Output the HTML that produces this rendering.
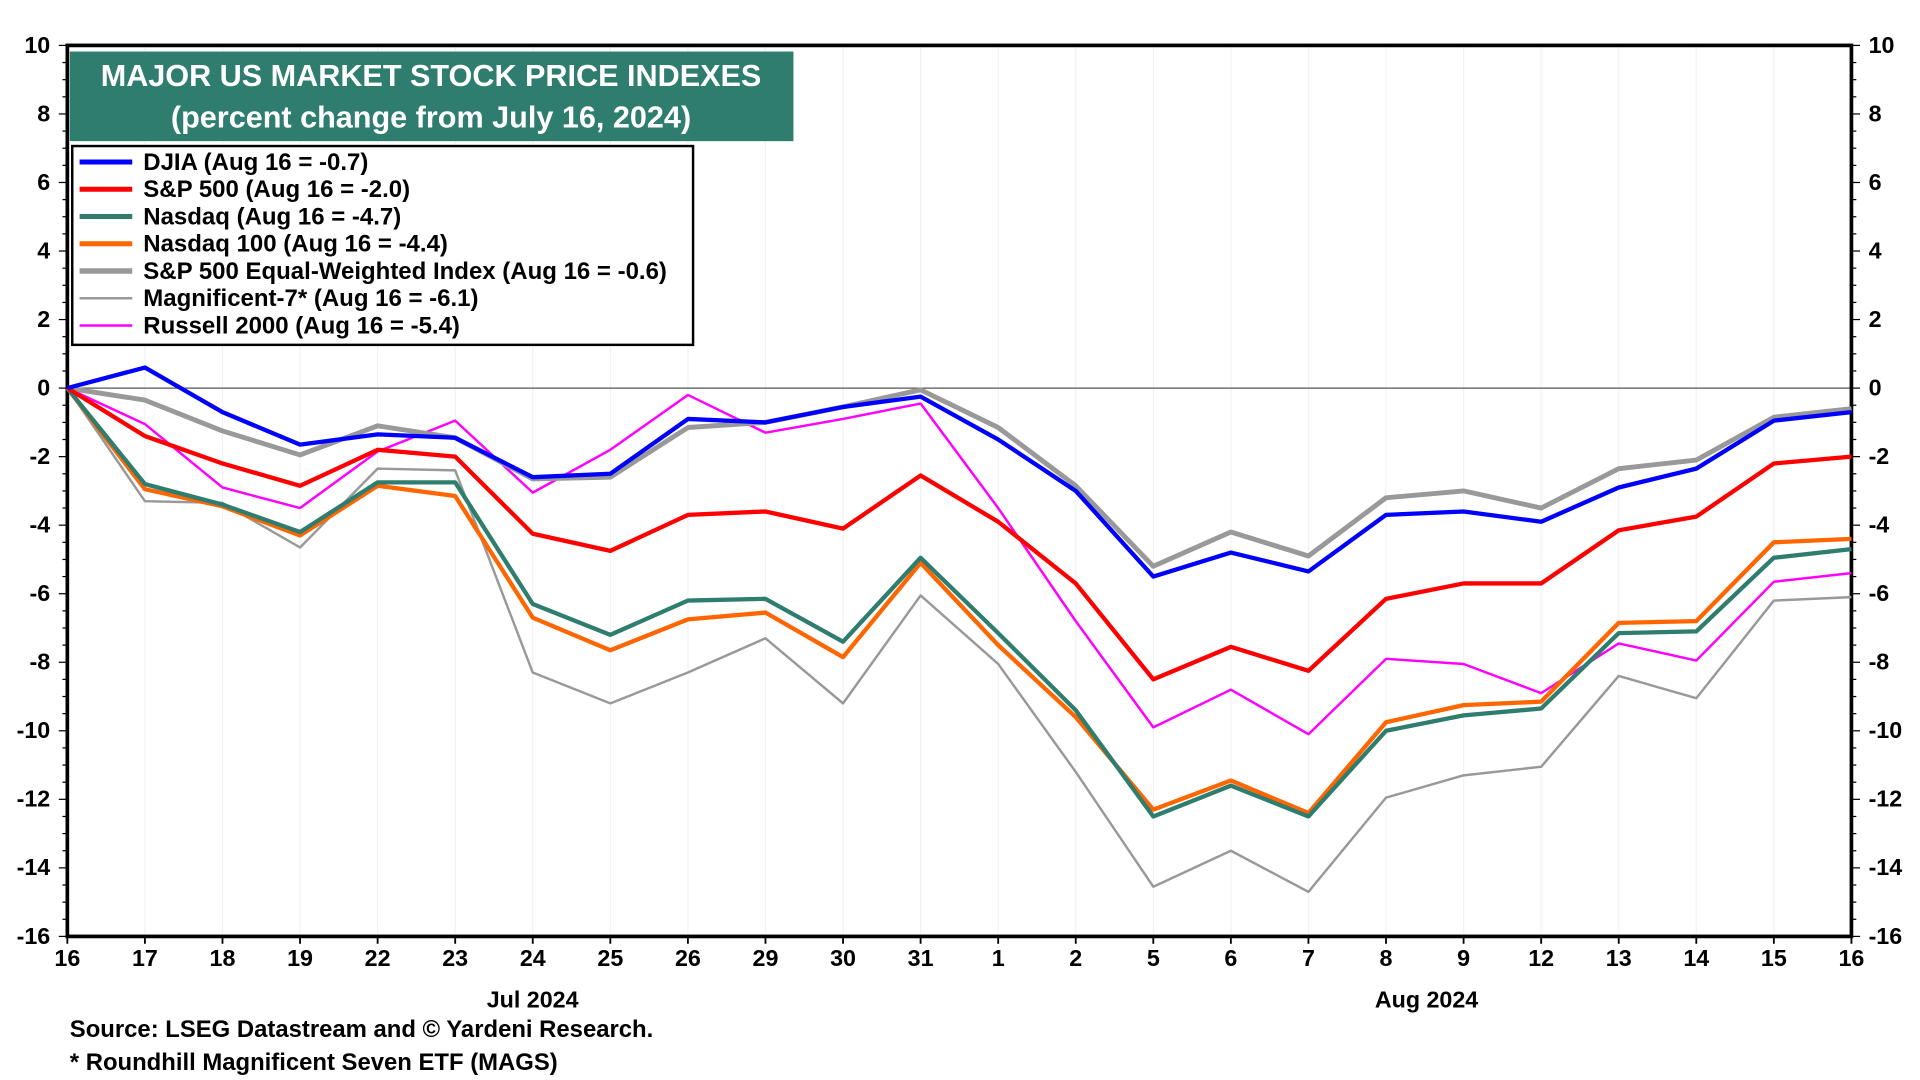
<!DOCTYPE html>
<html><head><meta charset="utf-8"><style>
html,body{margin:0;padding:0;background:#fff;}
svg{display:block;font-family:"Liberation Sans",Arial,sans-serif;font-weight:bold;}
</style></head><body>
<svg id="chart" width="1920" height="1080" viewBox="0 0 1568 880" preserveAspectRatio="none" xmlns="http://www.w3.org/2000/svg">
<g id="grid"></g>
<g id="axes"></g>
<g id="series"></g>
<rect x="57" y="42" width="591" height="73" fill="#2e7d6e"/>
<text x="352" y="70" fill="#fff" font-size="25" text-anchor="middle">MAJOR US MARKET STOCK PRICE INDEXES</text>
<text x="352" y="104" fill="#fff" font-size="25" text-anchor="middle">(percent change from July 16, 2024)</text>
<rect x="59" y="119" width="507" height="162" fill="#fff" stroke="#000" stroke-width="2"/>
<g id="legend"></g>
<text x="435" y="821" font-size="19" text-anchor="middle">Jul 2024</text>
<text x="1165" y="821" font-size="19" text-anchor="middle">Aug 2024</text>
<text x="57" y="845" font-size="19.5">Source: LSEG Datastream and © Yardeni Research.</text>
<text x="57" y="872" font-size="19.5">* Roundhill Magnificent Seven ETF (MAGS)</text>
</svg>
<script>
const categories=["16","17","18","19","22","23","24","25","26","29","30","31","1","2","5","6","7","8","9","12","13","14","15","16"];
const yTicks=[10,8,6,4,2,0,-2,-4,-6,-8,-10,-12,-14,-16];
const djia=[0,0.6,-0.7,-1.65,-1.35,-1.45,-2.6,-2.5,-0.9,-1.0,-0.55,-0.25,-1.5,-3.0,-5.5,-4.8,-5.35,-3.7,-3.6,-3.9,-2.9,-2.35,-0.95,-0.7];
const sp500=[0,-1.4,-2.2,-2.85,-1.8,-2.0,-4.25,-4.75,-3.7,-3.6,-4.1,-2.55,-3.9,-5.7,-8.5,-7.55,-8.25,-6.15,-5.7,-5.7,-4.15,-3.75,-2.2,-2.0];
const nasdaq=[0,-2.8,-3.4,-4.2,-2.75,-2.75,-6.3,-7.2,-6.2,-6.15,-7.4,-4.95,-7.15,-9.4,-12.5,-11.6,-12.5,-10.0,-9.55,-9.35,-7.15,-7.1,-4.95,-4.7];
const nasdaq100=[0,-2.95,-3.45,-4.3,-2.85,-3.15,-6.7,-7.65,-6.75,-6.55,-7.85,-5.1,-7.5,-9.6,-12.3,-11.45,-12.4,-9.75,-9.25,-9.15,-6.85,-6.8,-4.5,-4.4];
const spEqual=[0,-0.35,-1.25,-1.95,-1.1,-1.45,-2.65,-2.6,-1.15,-1.0,-0.55,-0.05,-1.15,-2.85,-5.2,-4.2,-4.9,-3.2,-3.0,-3.5,-2.35,-2.1,-0.85,-0.6];
const mag7=[0,-3.3,-3.35,-4.65,-2.35,-2.4,-8.3,-9.2,-8.3,-7.3,-9.2,-6.05,-8.05,-11.2,-14.55,-13.5,-14.7,-11.95,-11.3,-11.05,-8.4,-9.05,-6.2,-6.1];
const russell=[0,-1.05,-2.9,-3.5,-1.85,-0.95,-3.05,-1.8,-0.2,-1.3,-0.9,-0.45,-3.5,-6.8,-9.9,-8.8,-10.1,-7.9,-8.05,-8.9,-7.45,-7.95,-5.65,-5.4];
const legendLabels=["DJIA (Aug 16 = -0.7)","S&P 500 (Aug 16 = -2.0)","Nasdaq (Aug 16 = -4.7)","Nasdaq 100 (Aug 16 = -4.4)","S&P 500 Equal-Weighted Index (Aug 16 = -0.6)","Magnificent-7* (Aug 16 = -6.1)","Russell 2000 (Aug 16 = -5.4)"];

const NS="http://www.w3.org/2000/svg";
const L=55,R=1512,T=37,B=763,yMax=10,yMin=-16;
const x=i=>L+(R-L)*i/(categories.length-1);
const y=v=>T+(B-T)*(yMax-v)/(yMax-yMin);
function mk(tag,attrs,parent){const e=document.createElementNS(NS,tag);for(const k in attrs)e.setAttribute(k,attrs[k]);parent.appendChild(e);return e;}
const grid=document.getElementById('grid'),axes=document.getElementById('axes'),ser=document.getElementById('series'),leg=document.getElementById('legend');
categories.forEach((c,i)=>{
  const g=mk('line',{x1:x(i),x2:x(i),y1:T,y2:B,stroke:'#f2f2f2','stroke-width':1},grid);
  
  
  const t=mk('text',{x:x(i),y:B+24,'font-size':19,'text-anchor':'middle'},axes);
  t.textContent=c;
  
  
  mk('line',{x1:x(i),x2:x(i),y1:B,y2:B+6,stroke:'#000','stroke-width':1.5},axes);
});
for(let v=yMin;v<=yMax;v+=0.5){
  const len=(v%2===0)?7:4;
  mk('line',{x1:L-len,x2:L,y1:y(v),y2:y(v),stroke:'#000','stroke-width':1},axes);
  mk('line',{x1:R,x2:R+len,y1:y(v),y2:y(v),stroke:'#000','stroke-width':1},axes);
}
yTicks.forEach(v=>{
  const a=mk('text',{x:L-14,y:y(v)+6,'font-size':19,'text-anchor':'end'},axes);a.textContent=v;
  
  
  const b=mk('text',{x:R+14,y:y(v)+6,'font-size':19,'text-anchor':'start'},axes);b.textContent=v;
  
  
});
const zl=mk('line',{x1:L,x2:R,y1:y(0),y2:y(0),stroke:'#555','stroke-width':1},axes);


const frame=mk('rect',{x:L,y:T,width:R-L,height:B-T,fill:'none',stroke:'#000','stroke-width':3},axes);


const series=[[mag7,'#999999',2,'line-magnificent-7'],[russell,'#ff00ff',2,'line-russell-2000'],[spEqual,'#999999',4,'line-sp500-equal-weighted'],[nasdaq100,'#ff6600',3.5,'line-nasdaq-100'],[nasdaq,'#2e7d6e',3.5,'line-nasdaq'],[sp500,'#ff0000',3.5,'line-sp500'],[djia,'#0000ff',3.5,'line-djia']];
series.forEach(s=>{
  const p=mk('polyline',{points:s[0].map((v,i)=>x(i)+','+y(v)).join(' '),fill:'none',stroke:s[1],'stroke-width':s[2],'stroke-linejoin':'round'},ser);
  
  
});
const legStyle=[['#0000ff',4],['#ff0000',4],['#2e7d6e',4],['#ff6600',4],['#999999',4.5],['#999999',2],['#ff00ff',2]];
legendLabels.forEach((lab,i)=>{
  const yy=132+i*22.2;
  mk('line',{x1:65,x2:108,y1:yy,y2:yy,stroke:legStyle[i][0],'stroke-width':legStyle[i][1]},leg);
  const t=mk('text',{x:117,y:yy+6.5,'font-size':19.6},leg);t.textContent=lab;
  
  
});
</script>
</body></html>
